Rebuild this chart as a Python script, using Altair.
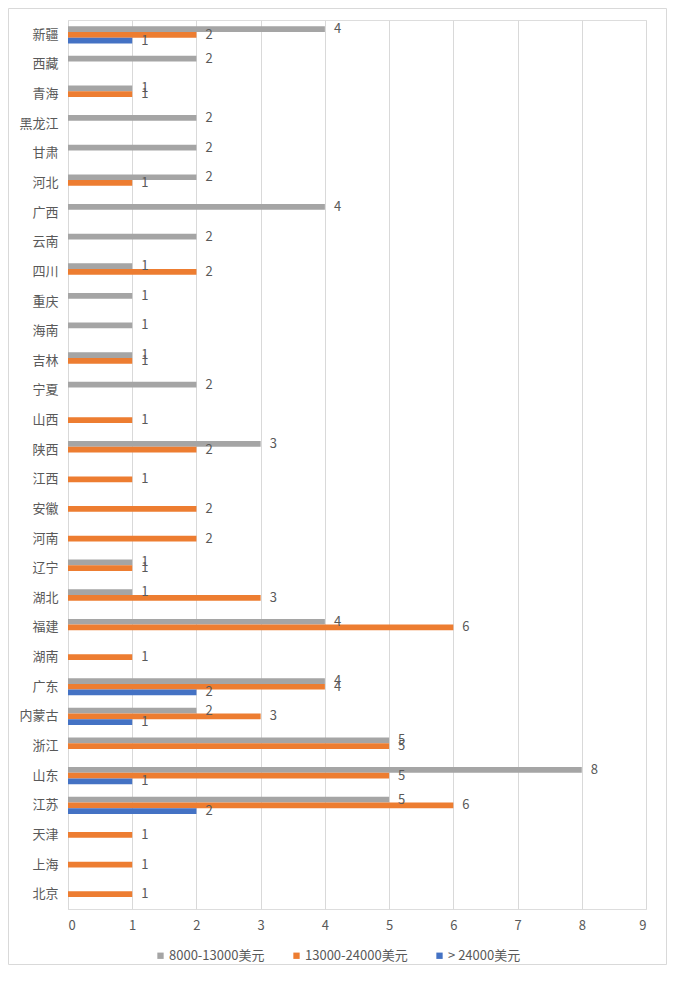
import altair as alt
import pandas as pd

provinces = ["新疆", "西藏", "青海", "黑龙江", "甘肃", "河北", "广西", "云南", "四川", "重庆",
             "海南", "吉林", "宁夏", "山西", "陕西", "江西", "安徽", "河南", "辽宁", "湖北",
             "福建", "湖南", "广东", "内蒙古", "浙江", "山东", "江苏", "天津", "上海", "北京"]

series = ["8000-13000美元", "13000-24000美元", "\u00a0> 24000美元"]
colors = ["#A5A5A5", "#ED7D31", "#4472C4"]
x_ticks = [0, 1, 2, 3, 4, 5, 6, 7, 8, 9]

# values per province, top-to-bottom order (0 = no bar)
low = [4, 2, 1, 2, 2, 2, 4, 2, 1, 1, 1, 1, 2, 0, 3, 0, 0, 0, 1, 1, 4, 0, 4, 2, 5, 8, 5, 0, 0, 0]
mid = [2, 0, 1, 0, 0, 1, 0, 0, 2, 0, 0, 1, 0, 1, 2, 1, 2, 2, 1, 3, 6, 1, 4, 3, 5, 5, 6, 1, 1, 1]
high = [1, 0, 0, 0, 0, 0, 0, 0, 0, 0, 0, 0, 0, 0, 0, 0, 0, 0, 0, 0, 0, 0, 2, 1, 0, 1, 2, 0, 0, 0]

rows = []
for s, vals in zip(series, [low, mid, high]):
    for p, v in zip(provinces, vals):
        if v > 0:
            rows.append({"province": p, "series": s, "value": v})
df = pd.DataFrame(rows)

FONT = "Noto Sans CJK SC"
TXT = "#595959"

y_enc = alt.Y("province:N", sort=provinces,
              scale=alt.Scale(paddingInner=0.42, paddingOuter=0.21),
              axis=alt.Axis(title=None, ticks=False, domain=True, domainColor="#d9d9d9",
                            labelFont=FONT, labelFontSize=13, labelColor=TXT, labelPadding=10,
                            grid=False))
x_enc = alt.X("value:Q", scale=alt.Scale(domain=[0, 9], nice=False),
              axis=alt.Axis(title=None, values=x_ticks, ticks=False, domain=False,
                            grid=True, gridColor="#d9d9d9", labelFont=FONT, labelFontSize=13,
                            labelColor=TXT, labelPadding=10, format="d", labelOverlap=False))
yoff = alt.YOffset("series:N", sort=series, scale=alt.Scale(domain=series, paddingInner=0, paddingOuter=0))

base = alt.Chart(df)

bars = base.mark_bar().encode(
    y=y_enc,
    yOffset=yoff,
    x=x_enc,
    color=alt.Color("series:N", sort=series,
                    scale=alt.Scale(domain=series, range=colors),
                    legend=alt.Legend(title=None, orient="none", direction="horizontal",
                                      legendX=86, legendY=929, symbolType="square", symbolSize=40,
                                      symbolStrokeWidth=0, labelFont=FONT, labelFontSize=13,
                                      labelColor=TXT, columnPadding=25, labelOffset=2)),
)

labels = base.mark_text(align="left", baseline="middle", dx=9, font=FONT, fontSize=13, color=TXT).encode(
    y=y_enc,
    yOffset=yoff,
    x=x_enc,
    text=alt.Text("value:Q"),
)

border = alt.Chart(alt.Data(values=[{}])).mark_rect(fill=None, stroke="#d9d9d9", strokeWidth=1).encode(
    x=alt.value(-59.5), x2=alt.value(598.5), y=alt.value(-11.5), y2=alt.value(944.5),
)

chart = alt.layer(bars, labels, border).properties(
    width=578, height=889,
    autosize=alt.AutoSizeParams(type="none"),
    padding={"left": 60, "top": 12, "right": 21, "bottom": 56},
).configure_view(stroke=None).configure(background="white")

chart.save("out.html", embed_options={"renderer": "svg", "actions": False})
